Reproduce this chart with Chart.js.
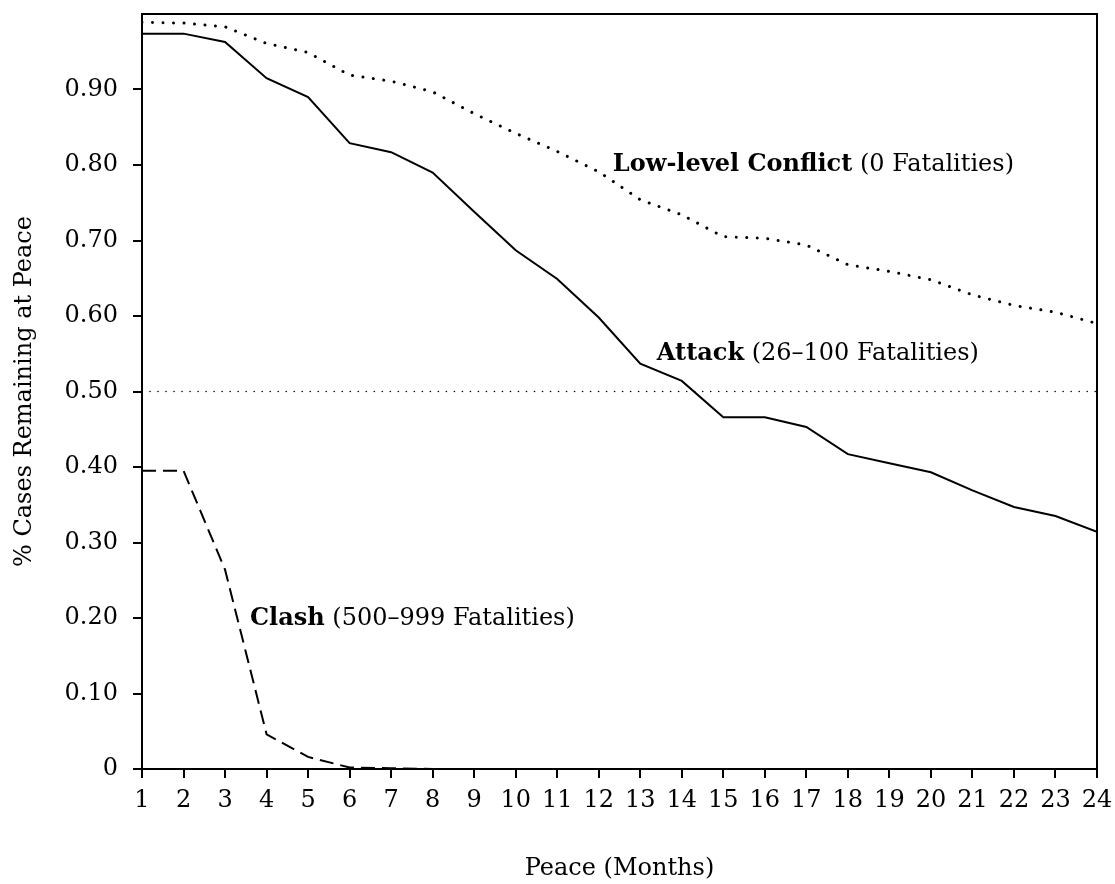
<!DOCTYPE html>
<html>
<head>
<meta charset="utf-8">
<script src="https://cdn.jsdelivr.net/npm/chart.js@4.4.1/dist/chart.umd.min.js"></script>
<style>
  html, body { margin: 0; padding: 0; background: #fff; }
  canvas { display: block; }
</style>
</head>
<body>
<canvas id="chart" width="1115" height="884"></canvas>
<script>
const months = [1, 2, 3, 4, 5, 6, 7, 8, 9, 10, 11, 12, 13, 14, 15, 16, 17, 18, 19, 20, 21, 22, 23, 24];

const lowLevel = [0.989, 0.988, 0.983, 0.961, 0.949, 0.919, 0.911, 0.897, 0.868, 0.842, 0.818, 0.791,
  0.754, 0.734, 0.705, 0.703, 0.694, 0.668, 0.659, 0.648, 0.628, 0.614, 0.605, 0.590];

const attack = [0.974, 0.974, 0.963, 0.915, 0.890, 0.829, 0.817, 0.790, 0.738, 0.687, 0.649, 0.598,
  0.537, 0.514, 0.466, 0.466, 0.453, 0.417, 0.405, 0.393, 0.369, 0.347, 0.335, 0.314];

const clash = [0.395, 0.395, 0.264, 0.046, 0.016, 0.002, 0.001, 0, 0, 0, 0, 0,
  0, 0, 0, 0, 0, 0, 0, 0, 0, 0, 0, 0];

const medianLevel = 0.5;
const yTicks = [0, 0.1, 0.2, 0.3, 0.4, 0.5, 0.6, 0.7, 0.8, 0.9];

// curve labels: anchor is left edge / baseline, in data units
const labelX = [12.34, 13.40, 3.60];
const labelY = [0.792, 0.542, 0.191];
const labelBold = ["Low-level Conflict", "Attack", "Clash"];
const labelRest = [" (0 Fatalities)", " (26\u2013100 Fatalities)", " (500\u2013999 Fatalities)"];

const FONT = "'DejaVu Serif', serif";

const toPoints = (vals) => vals.map((v, i) => ({ x: months[i], y: v }));

// keep the plot box where the reference has it (no label overflow padding)
const noScalePadding = (s) => {
  s.paddingTop = 0;
  s.paddingBottom = 0;
  s.paddingLeft = 0;
  s.paddingRight = 0;
};

const frame = {
  id: "frame",
  afterDraw(chart) {
    const { ctx, chartArea: a } = chart;
    ctx.save();
    ctx.strokeStyle = "#000";
    ctx.lineWidth = 2;
    ctx.strokeRect(a.left, a.top, a.right - a.left, a.bottom - a.top);
    ctx.restore();
  },
};

const curveLabels = {
  id: "curveLabels",
  afterDatasetsDraw(chart) {
    const { ctx, scales } = chart;
    ctx.save();
    ctx.fillStyle = "#000";
    ctx.textBaseline = "alphabetic";
    ctx.textAlign = "left";
    labelBold.forEach((bold, i) => {
      const px = scales.x.getPixelForValue(labelX[i]);
      const py = scales.y.getPixelForValue(labelY[i]);
      ctx.font = "bold 24px " + FONT;
      ctx.fillText(bold, px, py);
      const w = ctx.measureText(bold).width;
      ctx.font = "24px " + FONT;
      ctx.fillText(labelRest[i], px + w, py);
    });
    ctx.restore();
  },
};

new Chart(document.getElementById("chart"), {
  type: "line",
  data: {
    datasets: [
      {
        label: "Low-level Conflict",
        data: toPoints(lowLevel),
        borderColor: "#000",
        borderWidth: 3,
        borderDash: [0.01, 10.5],
        borderCapStyle: "round",
        pointRadius: 0,
        tension: 0,
      },
      {
        label: "Attack",
        data: toPoints(attack),
        borderColor: "#000",
        borderWidth: 2,
        pointRadius: 0,
        tension: 0,
      },
      {
        label: "Clash",
        data: toPoints(clash),
        borderColor: "#000",
        borderWidth: 2,
        borderDash: [14, 7],
        pointRadius: 0,
        tension: 0,
      },
      {
        label: "Median",
        data: [
          { x: months[0], y: medianLevel },
          { x: months[months.length - 1], y: medianLevel },
        ],
        borderColor: "#000",
        borderWidth: 1.6,
        borderDash: [0.01, 8],
        borderCapStyle: "round",
        pointRadius: 0,
      },
    ],
  },
  options: {
    responsive: false,
    animation: false,
    layout: { padding: { left: 0, top: 14, right: 18, bottom: 0 } },
    plugins: {
      legend: { display: false },
      tooltip: { enabled: false },
    },
    scales: {
      x: {
        type: "linear",
        min: 1,
        max: 24,
        afterFit: (s) => { s.height = 115; noScalePadding(s); },
        afterBuildTicks: (s) => { s.ticks = months.map((v) => ({ value: v })); },
        grid: { drawOnChartArea: false, drawTicks: true, tickLength: 9, color: "#000", lineWidth: 2 },
        border: { display: false },
        ticks: {
          color: "#000",
          padding: 8,
          maxRotation: 0,
          autoSkip: false,
          font: { family: FONT, size: 24 },
          callback: (v) => String(v),
        },
        title: {
          display: true,
          text: "Peace (Months)",
          color: "#000",
          font: { family: FONT, size: 24 },
          padding: { top: 0, bottom: 1 },
        },
      },
      y: {
        type: "linear",
        min: 0,
        max: 1,
        afterFit: (s) => { s.width = 142; noScalePadding(s); },
        afterBuildTicks: (s) => { s.ticks = yTicks.map((v) => ({ value: v })); },
        grid: { drawOnChartArea: false, drawTicks: true, tickLength: 9, color: "#000", lineWidth: 2 },
        border: { display: false },
        ticks: {
          color: "#000",
          padding: 15,
          font: { family: FONT, size: 24 },
          callback: (v) => (v === 0 ? "0" : v.toFixed(2)),
        },
        title: {
          display: true,
          text: "% Cases Remaining at Peace",
          color: "#000",
          font: { family: FONT, size: 24 },
          padding: { top: 10, bottom: 0 },
        },
      },
    },
  },
  plugins: [frame, curveLabels],
});
</script>
</body>
</html>
